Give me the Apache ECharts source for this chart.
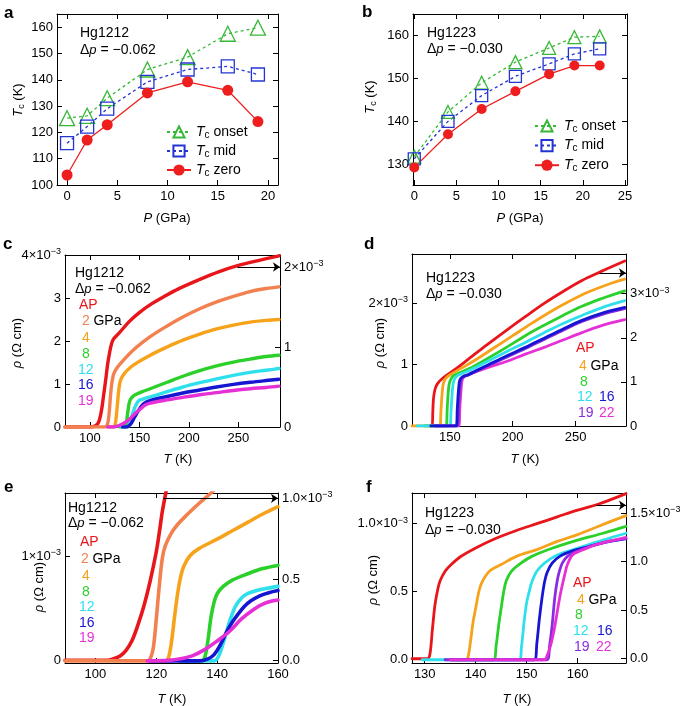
<!DOCTYPE html>
<html><head><meta charset="utf-8">
<script src="https://cdn.jsdelivr.net/npm/echarts@6/dist/echarts.min.js"></script>
<style>html,body{margin:0;padding:0;background:#fff}#c{width:685px;height:706px}</style>
</head><body><div id="c"></div><script>
// ---------- Panel a (Hg1212, Tc vs P) ----------
const aP = [0, 2, 4, 8, 12, 16, 19];
const aOnset = [125.4, 126.3, 133, 143.9, 148.6, 157.5, 159.8];
const aMid = [115.9, 122.2, 129, 139.2, 143.9, 145.1, 142];
const aZero = [103.8, 117.1, 122.9, 135, 139.2, 136, 124.1];
// ---------- Panel b (Hg1223, Tc vs P) ----------
const bP = [0, 4, 8, 12, 16, 19, 22];
const bOnset = [131.8, 142.2, 149, 153.8, 157.1, 159.6, 159.8];
const bMid = [131.3, 140, 146, 150.5, 153.4, 155.7, 156.9];
const bZero = [129.3, 137, 142.9, 147, 151, 153, 153];
// ---------- Panel c (Hg1212 rho(T), units 1e-3 Ohm cm; AP on right axis) ----------
const cT_AP = [75,100,105,108,110,112,114,116,118,120,122,124,130,140,150,160,175,190,210,230,250,270,291];
const cR_AP = [0,0,0.01,0.04,0.1,0.22,0.4,0.58,0.78,0.93,1.04,1.1,1.18,1.32,1.43,1.52,1.63,1.73,1.84,1.94,2.02,2.08,2.14];
const cT_2 = [75,115,117,118,119,120,121,122,123,124,126,130,144,161,178,194,211,228,245,262,278,291];
const cR_2 = [0,0,0.02,0.08,0.2,0.45,0.75,0.98,1.12,1.22,1.32,1.45,1.79,2.10,2.35,2.56,2.75,2.91,3.04,3.15,3.22,3.26];
const cT_4 = [118,124,125,126,127,128,129,130,131,133,137,144,161,178,194,211,228,245,262,278,291];
const cR_4 = [0,0,0.02,0.1,0.3,0.55,0.8,0.98,1.08,1.18,1.3,1.44,1.67,1.86,2.02,2.16,2.28,2.37,2.44,2.48,2.50];
const cT_8 = [130,135,136,137,138,139,140,141,143,146,152,161,178,194,211,228,245,262,278,291];
const cR_8 = [0,0,0.02,0.1,0.28,0.45,0.58,0.64,0.7,0.75,0.81,0.89,1.04,1.18,1.31,1.42,1.51,1.58,1.64,1.67];
const cT_12 = [132,138,139,140,142,144,146,148,150,155,161,178,194,211,228,245,262,278,291];
const cR_12 = [0,0,0.02,0.08,0.22,0.36,0.48,0.57,0.62,0.66,0.70,0.82,0.93,1.03,1.12,1.2,1.27,1.32,1.36];
const cT_16 = [133,137,139,141,143,145,147,149,151,153,155,157,160,178,194,211,228,245,262,278,291];
const cR_16 = [0,0,0.02,0.06,0.13,0.22,0.3,0.38,0.45,0.51,0.55,0.58,0.61,0.71,0.79,0.86,0.93,0.99,1.04,1.08,1.11];
const cT_19 = [118,124,128,132,136,140,144,148,152,156,160,178,194,211,228,245,262,278,291];
const cR_19 = [0,0,0.02,0.06,0.11,0.18,0.27,0.36,0.44,0.51,0.55,0.63,0.69,0.75,0.80,0.85,0.89,0.92,0.95];
// ---------- Panel d (Hg1223 rho(T)) ----------
const dT_AP = [133,136,136.5,137,138,140,145,155,165,180,195,210,225,240,255,270,289];
const dR_AP = [0,0,0.3,0.6,0.8,0.95,1.1,1.3,1.52,1.85,2.17,2.48,2.78,3.05,3.3,3.5,3.74];
const dT_4 = [120,142,143,144,145,147,150,160,170,185,200,215,230,245,260,275,289];
const dR_4 = [0,0,0.25,0.55,0.7,0.78,0.83,0.95,1.07,1.27,1.47,1.67,1.86,2.03,2.18,2.3,2.39];
const dT_8 = [130,147,148,149,150,152,155,165,180,195,210,225,240,255,270,289];
const dR_8 = [0,0,0.3,0.6,0.72,0.8,0.84,0.93,1.1,1.28,1.47,1.64,1.8,1.95,2.07,2.2];
const dT_12 = [124,150,151,152,153,155,158,165,180,195,210,225,240,255,270,289];
const dR_12 = [0,0,0.25,0.55,0.72,0.8,0.84,0.9,1.05,1.21,1.36,1.52,1.67,1.8,1.92,2.04];
const dT_16 = [135,155,156,157,158,160,165,180,195,210,225,240,255,270,289];
const dR_16 = [0,0,0.3,0.6,0.75,0.8,0.84,0.99,1.14,1.28,1.43,1.58,1.72,1.83,1.93];
const dT_19 = [138,156,157,158,159,161,165,180,195,210,225,240,255,270,289];
const dR_19 = [0,0,0.3,0.6,0.75,0.8,0.83,0.98,1.12,1.26,1.41,1.56,1.7,1.81,1.91];
const dT_22 = [138,157,158,159,160,162,165,180,195,210,225,240,255,270,289];
const dR_22 = [0,0,0.3,0.6,0.76,0.81,0.84,0.95,1.05,1.17,1.28,1.4,1.52,1.63,1.73];
// ---------- Panel e (Hg1212 zoom) ----------
const eT_AP = [90,104,106,108,110,112,114,116,118,120,121,122,123.2];
const eR_AP = [0,0,0.01,0.025,0.06,0.12,0.22,0.34,0.49,0.67,0.79,0.92,1.04];
const eT_2 = [90,117,118,119,120,121,122,123,125,127,130,134,138,139];
const eR_2 = [0,0,0.02,0.12,0.4,0.72,0.98,1.1,1.22,1.3,1.39,1.5,1.6,1.63];
const eT_4 = [118,123,124,125,126,127,128,129,131,134,140,145,150,155,160];
const eR_4 = [0,0,0.03,0.18,0.42,0.64,0.8,0.9,1.0,1.07,1.16,1.24,1.32,1.40,1.47];
const eT_8 = [128,135,136,137,138,139,140,142,145,150,155,160];
const eR_8 = [0,0,0.04,0.2,0.42,0.56,0.64,0.71,0.77,0.83,0.88,0.91];
const eT_12 = [128,139,140,141,142,143,144,145,146,148,150,153,156,160];
const eR_12 = [0,0,0.02,0.08,0.17,0.27,0.37,0.45,0.52,0.6,0.64,0.67,0.69,0.71];
const eT_16 = [118,134,137,139,141,143,145,147,149,151,154,157,160];
const eR_16 = [0,0,0.02,0.06,0.15,0.27,0.37,0.45,0.52,0.57,0.62,0.65,0.67];
const eT_19 = [117,124,128,132,136,140,144,148,152,155,158,160];
const eR_19 = [0,0.005,0.02,0.05,0.11,0.19,0.28,0.4,0.49,0.54,0.57,0.58];
// ---------- Panel f (Hg1223 zoom) ----------
const fT_AP = [127.5,130.5,131,131.5,132,132.5,133,134,135,137,140,144,148,152,156,160,164,169.5];
const fR_AP = [0,0,0.04,0.3,0.55,0.7,0.8,0.9,0.96,1.05,1.14,1.24,1.32,1.39,1.46,1.53,1.59,1.70];
const fT_4 = [137,138,138.5,139,139.5,140,140.5,141,142,143,145,148,152,156,160,164,169.5];
const fR_4 = [0,0,0.02,0.14,0.28,0.38,0.48,0.55,0.62,0.66,0.7,0.76,0.81,0.87,0.92,0.98,1.06];
const fT_8 = [135,143.5,144,144.5,145,145.5,146,147,148.5,151,155,160,165,169.5];
const fR_8 = [0,0,0.1,0.25,0.38,0.5,0.58,0.65,0.7,0.76,0.82,0.88,0.93,0.98];
const fT_12 = [129.5,148.5,149,149.5,150,150.5,151,152,153.5,156,160,165,169.5];
const fR_12 = [0,0,0.1,0.28,0.42,0.5,0.57,0.65,0.71,0.77,0.82,0.88,0.93];
const fT_16 = [135,151.5,152,152.5,153,153.5,154,155,156.5,159,162,165,169.5];
const fR_16 = [0,0,0.12,0.3,0.45,0.57,0.64,0.71,0.76,0.8,0.83,0.86,0.89];
const fT_19 = [134,154,154.5,155,155.5,156,156.5,157,158,160,163,166,169.5];
const fR_19 = [0,0,0.1,0.25,0.45,0.58,0.66,0.71,0.76,0.8,0.84,0.87,0.89];
const fT_22 = [135,153.5,154,154.5,155,155.5,156,156.5,157,157.5,158,159,160.5,164,169.5];
const fR_22 = [0,0,0.03,0.08,0.15,0.24,0.35,0.46,0.55,0.63,0.7,0.77,0.8,0.85,0.9];

// ---------- tick labels ----------
const aXTicks = [0,5,10,15,20], aYTicks = [100,110,120,130,140,150,160];
const bXTicks = [0,5,10,15,20,25], bYTicks = [130,140,150,160];
const cXTicks = [100,150,200,250], cYL = [0,1,2,3,4], cYR = [0,1,2];
const dXTicks = [150,200,250], dYL = [0,1,2], dYR = [0,1,2,3];
const eXTicks = [100,120,140,160], eYL = [0,1], eYR = [0,0.5,1];
const fXTicks = [130,140,150,160], fYL = [0,0.5,1], fYR = [0,0.5,1,1.5];

const FF = '"Liberation Sans", Arial, Helvetica, sans-serif';
const C = {AP:'#e8161b', p2:'#f3804f', p4:'#f7a21b', p8:'#2bd12a', p12:'#2fe0ec', p16:'#1616d2', p19:'#e530d6', pur:'#8a2be0', p22:'#e530d6',
  on:'#36b836', mid:'#2434d2', zero:'#ee1e1e'};

const pairs = (X, Y) => X.map((x, i) => [x, Y[i]]);
const SUPRICH = {m:{fontSize:13, fontFamily:FF, color:'#000', lineHeight:16}, sup:{fontSize:9, fontFamily:FF, color:'#000', lineHeight:8, verticalAlign:'top'}};
function supFmt(top, dec){ return v => { const s = v.toFixed(dec); return Math.abs(v-top) < 1e-9 ? '{m|'+s+'×10}{sup|−3}' : s; }; }

function xAx(g, min, max, ticks, pos, showLabel){
  return {type:'value', gridIndex:g, position:pos, min, max,
    axisLine:{show:true, onZero:false, lineStyle:{color:'#000', width:1}},
    axisTick:{show:true, inside:true, length:5, customValues:ticks, lineStyle:{color:'#000', width:1}},
    axisLabel:{show:showLabel, customValues:ticks, margin:5, color:'#000', fontSize:13, fontFamily:FF, formatter:v=>String(v)},
    splitLine:{show:false}};
}
function yAx(g, min, max, ticks, pos, showLabel, fmt){
  return {type:'value', gridIndex:g, position:pos, min, max,
    axisLine:{show:true, onZero:false, lineStyle:{color:'#000', width:1}},
    axisTick:{show:true, inside:true, length:5, customValues:ticks, lineStyle:{color:'#000', width:1}},
    axisLabel:{show:showLabel, customValues:ticks, margin:4, color:'#000', fontSize:13, fontFamily:FF, formatter:fmt||(v=>String(v)), rich:SUPRICH},
    splitLine:{show:false}};
}

const grids = [
  {left:57, top:14, width:221, height:171},
  {left:413, top:14, width:214, height:171},
  {left:65, top:255, width:215, height:172},
  {left:412, top:254, width:214, height:172},
  {left:65, top:493, width:213, height:170},
  {left:412, top:493, width:214, height:170}
].map(g => Object.assign(g, {outerBoundsMode:'none', containLabel:false}));

const xAxes = [
  xAx(0,-1,21,aXTicks,'bottom',true), xAx(0,-1,21,aXTicks,'top',false),
  xAx(1,-0.15,25.24,bXTicks,'bottom',true), xAx(1,-0.15,25.24,bXTicks,'top',false),
  xAx(2,75,292,cXTicks,'bottom',true), xAx(2,75,292,cXTicks,'top',false),
  xAx(3,120,290,dXTicks,'bottom',true), xAx(3,120,290,dXTicks,'top',false),
  xAx(4,90,160,eXTicks,'bottom',true), xAx(4,90,160,eXTicks,'top',false),
  xAx(5,127.5,169.5,fXTicks,'bottom',true), xAx(5,127.5,169.5,fXTicks,'top',false)
];
const yAxes = [
  yAx(0,100,165,aYTicks,'left',true), yAx(0,100,165,aYTicks,'right',false),
  yAx(1,125.2,165,bYTicks,'left',true), yAx(1,125.2,165,bYTicks,'right',false),
  yAx(2,0,4,cYL,'left',true,supFmt(4,0)), yAx(2,0,2.15,cYR,'right',true,supFmt(2,0)),
  yAx(3,0,2.8,dYL,'left',true,supFmt(2,0)), yAx(3,0,3.9,dYR,'right',true,supFmt(3,0)),
  yAx(4,-0.02,1.6,eYL,'left',true,supFmt(1,0)), yAx(4,-0.017,1.033,eYR,'right',true,supFmt(1,1)),
  yAx(5,-0.024,1.226,fYL,'left',true,supFmt(1,1)), yAx(5,-0.044,1.706,fYR,'right',true,supFmt(1.5,1))
];

function tcSeries(g, P, on, mid, zero, big){
  return [
    {type:'line', name:'onset', xAxisIndex:2*g, yAxisIndex:2*g, data:pairs(P,on), symbol:'triangle', symbolSize:big?15:13,
      itemStyle:{color:'rgba(255,255,255,0)', borderColor:C.on, borderWidth:1.3}, lineStyle:{color:C.on, width:1.3, type:[3,3]}},
    {type:'line', name:'mid', xAxisIndex:2*g, yAxisIndex:2*g, data:pairs(P,mid), symbol:'rect', symbolSize:big?13:12,
      itemStyle:{color:'rgba(255,255,255,0)', borderColor:C.mid, borderWidth:1.3}, lineStyle:{color:C.mid, width:1.3, type:[3,3]}},
    {type:'line', name:'zero', xAxisIndex:2*g, yAxisIndex:2*g, data:pairs(P,zero), symbol:'circle', symbolSize:big?11:10,
      itemStyle:{color:C.zero}, lineStyle:{color:C.zero, width:1.3}}
  ];
}
function rho(g, T, R, color, right, w, arrow){
  const s = {type:'line', xAxisIndex:2*g, yAxisIndex:2*g+(right?1:0), data:pairs(T,R), showSymbol:false, symbol:'none',
    smooth:0.35, clip:true, lineStyle:{color, width:w, cap:'round', join:'round'}, itemStyle:{color}, silent:true};
  if (arrow) s.markLine = {silent:true, symbol:['none','arrow'], symbolSize:7, label:{show:false},
    lineStyle:{color:'#000', width:1, type:'solid'}, data:[[{coord:arrow[0]},{coord:arrow[1]}]]};
  return s;
}

const series = [
  ...tcSeries(0, aP, aOnset, aMid, aZero, true),
  ...tcSeries(1, bP, bOnset, bMid, bZero, false),
  rho(2,cT_AP,cR_AP,C.AP,true,3.4,[[249,2.0],[292,2.0]]),
  rho(2,cT_2,cR_2,C.p2,false,3.4), rho(2,cT_4,cR_4,C.p4,false,3.4), rho(2,cT_8,cR_8,C.p8,false,3.4),
  rho(2,cT_12,cR_12,C.p12,false,3.4), rho(2,cT_16,cR_16,C.p16,false,3.4), rho(2,cT_19,cR_19,C.p19,false,3.4),
  rho(3,dT_AP,dR_AP,C.AP,true,2.8,[[269,3.47],[290,3.47]]),
  rho(3,dT_4,dR_4,C.p4,false,2.8), rho(3,dT_8,dR_8,C.p8,false,2.8), rho(3,dT_12,dR_12,C.p12,false,2.8),
  rho(3,dT_22,dR_22,C.p22,false,2.8), rho(3,dT_19,dR_19,C.pur,false,2.8), rho(3,dT_16,dR_16,C.p16,false,2.8),
  rho(4,eT_AP,eR_AP,C.AP,true,3.6,[[122.3,1.0],[160,1.0]]),
  rho(4,eT_2,eR_2,C.p2,false,3.6), rho(4,eT_4,eR_4,C.p4,false,3.6), rho(4,eT_8,eR_8,C.p8,false,3.6),
  rho(4,eT_12,eR_12,C.p12,false,3.6), rho(4,eT_16,eR_16,C.p16,false,3.6), rho(4,eT_19,eR_19,C.p19,false,3.6),
  rho(5,fT_AP,fR_AP,C.AP,true,2.8,[[163.7,1.58],[169.5,1.58]]),
  rho(5,fT_4,fR_4,C.p4,false,2.8), rho(5,fT_8,fR_8,C.p8,false,2.8), rho(5,fT_12,fR_12,C.p12,false,2.8),
  rho(5,fT_16,fR_16,C.p16,false,2.8), rho(5,fT_19,fR_19,C.pur,false,2.8), rho(5,fT_22,fR_22,C.p22,false,2.8)
];

const LEGRICH = {i:{fontStyle:'italic', fontSize:14, fontFamily:FF, color:'#000', lineHeight:16},
  s:{fontSize:10, fontFamily:FF, color:'#000', lineHeight:9, verticalAlign:'bottom'},
  t:{fontSize:14, fontFamily:FF, color:'#000', lineHeight:16}};
function legend(left, top, gap){
  return {show:true, orient:'vertical', left, top, padding:0, itemGap:gap, itemWidth:24, itemHeight:14, selectedMode:false,
    data:['onset','mid','zero'], formatter:n => '{i|T}{s|c}{t| '+n+'}', textStyle:{fontSize:14, fontFamily:FF, color:'#000', rich:LEGRICH}};
}

const GRICH = {i:{fontStyle:'italic', fontSize:13, fontFamily:FF, fill:'#000'}, s:{fontSize:9, fontFamily:FF, fill:'#000', lineHeight:9, verticalAlign:'bottom'},
  n:{fontSize:13, fontFamily:FF, fill:'#000', lineHeight:16},
  r:{fontSize:14, fontFamily:FF, fill:C.AP}, o:{fontSize:14, fontFamily:FF, fill:C.p2}, y:{fontSize:14, fontFamily:FF, fill:C.p4},
  k:{fontSize:14, fontFamily:FF, fill:'#000'}};
function txt(x, y, text, o){
  return {type:'text', x, y, silent:true, style:Object.assign({text, fill:'#000', fontSize:13, fontFamily:FF, align:'left', verticalAlign:'middle', rich:GRICH}, o||{})};
}
function lab(x, y, text, color){ return txt(x, y, text, {fill:color, fontSize:14}); }
const rot = Math.PI/2;
const graphics = [
  txt(4,13,'a',{fontSize:17, fontWeight:'bold'}), txt(362,12,'b',{fontSize:17, fontWeight:'bold'}),
  txt(3,244,'c',{fontSize:17, fontWeight:'bold'}), txt(364,244,'d',{fontSize:17, fontWeight:'bold'}),
  txt(4,487,'e',{fontSize:17, fontWeight:'bold'}), txt(366,487,'f',{fontSize:17, fontWeight:'bold'}),
  // axis titles
  txt(167,218,'{i|P} (GPa)',{align:'center'}), txt(520,218,'{i|P} (GPa)',{align:'center'}),
  txt(178,459,'{i|T} (K)',{align:'center'}), txt(525,459,'{i|T} (K)',{align:'center'}),
  txt(172,699,'{i|T} (K)',{align:'center'}), txt(517,699,'{i|T} (K)',{align:'center'}),
  Object.assign(txt(18,100,'{i|T}{s|c}{n| (K)}',{align:'center'}),{rotation:rot}),
  Object.assign(txt(370,97,'{i|T}{s|c}{n| (K)}',{align:'center'}),{rotation:rot}),
  Object.assign(txt(17,343,'{i|ρ} (Ω cm)',{align:'center'}),{rotation:rot}),
  Object.assign(txt(380,343,'{i|ρ} (Ω cm)',{align:'center'}),{rotation:rot}),
  Object.assign(txt(39,587,'{i|ρ} (Ω cm)',{align:'center'}),{rotation:rot}),
  Object.assign(txt(373,580,'{i|ρ} (Ω cm)',{align:'center'}),{rotation:rot}),
  // annotations
  txt(80,33,'Hg1212',{fontSize:14}), txt(80,50,'Δ{i|p} = −0.062',{fontSize:14}),
  txt(427,33,'Hg1223',{fontSize:14}), txt(427,49,'Δ{i|p} = −0.030',{fontSize:14}),
  txt(75,273,'Hg1212',{fontSize:14}), txt(75,289,'Δ{i|p} = −0.062',{fontSize:14}),
  lab(79,305,'AP',C.AP), txt(82,321,'{o|2} {k|GPa}'), lab(82,338,'4',C.p4), lab(82,354,'8',C.p8),
  lab(78,370,'12',C.p12), lab(78,385,'16',C.p16), lab(78,401,'19',C.p19),
  txt(426,278,'Hg1223',{fontSize:14}), txt(426,294,'Δ{i|p} = −0.030',{fontSize:14}),
  lab(576,348,'AP',C.AP), txt(579,366,'{y|4} {k|GPa}'), lab(580,382,'8',C.p8),
  lab(577,397,'12',C.p12), lab(599,397,'16',C.p16), lab(578,413,'19',C.pur), lab(599,413,'22',C.p22),
  txt(68,508,'Hg1212',{fontSize:14}), txt(68,523,'Δ{i|p} = −0.062',{fontSize:14}),
  lab(80,542,'AP',C.AP), txt(81,559,'{o|2} {k|GPa}'), lab(82,576,'4',C.p4), lab(82,592,'8',C.p8),
  lab(79,607,'12',C.p12), lab(79,623,'16',C.p16), lab(79,638,'19',C.p19),
  txt(425,513,'Hg1223',{fontSize:14}), txt(425,530,'Δ{i|p} = −0.030',{fontSize:14}),
  lab(573,583,'AP',C.AP), txt(577,600,'{y|4} {k|GPa}'), lab(575,615,'8',C.p8),
  lab(573,631,'12',C.p12), lab(597,631,'16',C.p16), lab(574,647,'19',C.pur), lab(596,647,'22',C.p22)
];

const chart = echarts.init(document.getElementById('c'), null, {renderer:'canvas'});
chart.setOption({
  animation:false, backgroundColor:'#fff',
  grid:grids, xAxis:xAxes, yAxis:yAxes, series,
  legend:[legend(166,125,4), legend(534,119,4.6)],
  graphic:graphics
});
</script></body></html>
